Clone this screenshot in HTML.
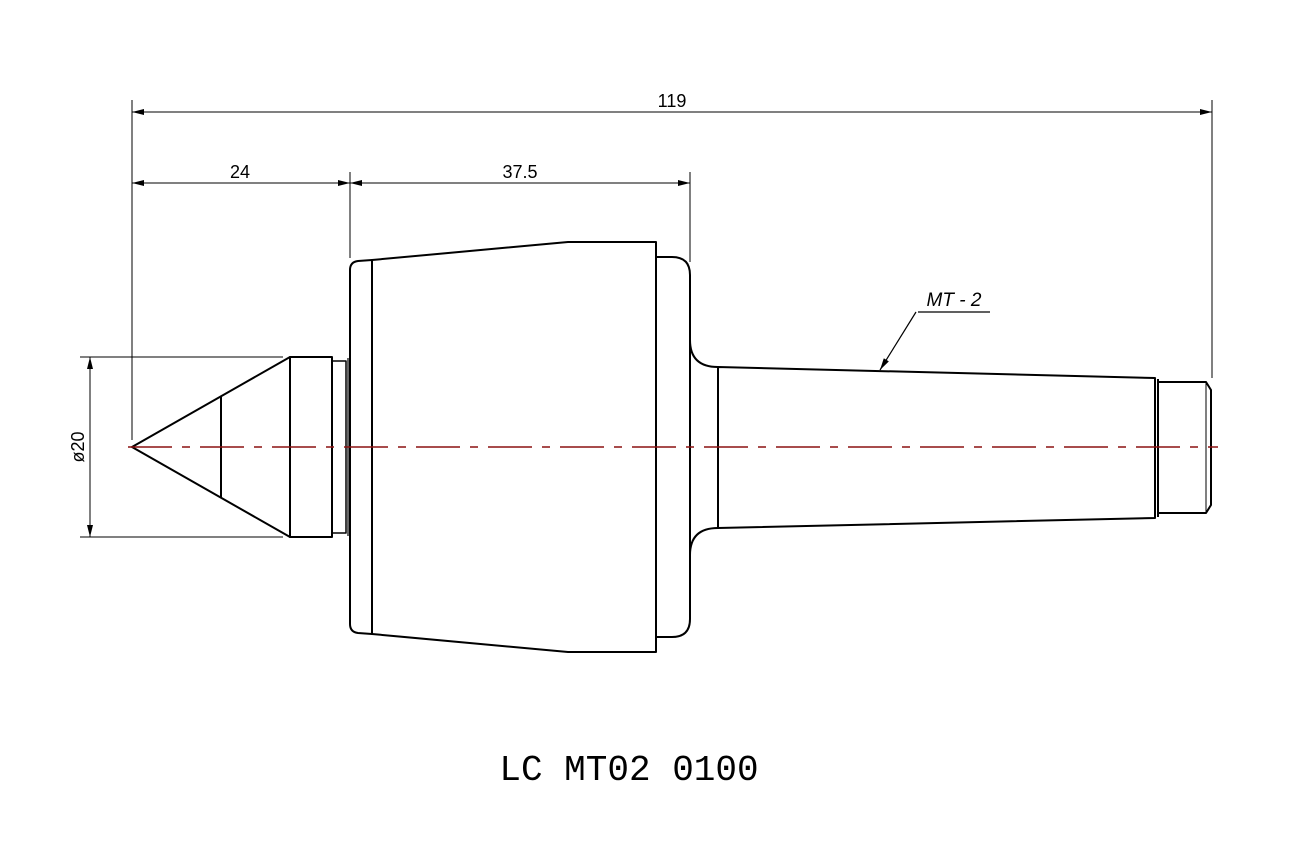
<!DOCTYPE html>
<html><head><meta charset="utf-8"><style>
html,body{margin:0;padding:0;background:#fff;}
svg{display:block;}
</style></head><body>
<svg width="1299" height="862" viewBox="0 0 1299 862" xmlns="http://www.w3.org/2000/svg">
<defs>
<marker id="a" viewBox="0 0 12 6" refX="12" refY="3" markerWidth="14" markerHeight="6" orient="auto-start-reverse" markerUnits="userSpaceOnUse"><path d="M0,0 L12,3 L0,6 Z" fill="#000"/></marker>
</defs>
<g stroke="#000" stroke-width="1" fill="none">
<line x1="132" y1="100" x2="132" y2="440"/>
<line x1="1212" y1="100" x2="1212" y2="378"/>
<line x1="350" y1="172" x2="350" y2="258"/>
<line x1="690" y1="172" x2="690" y2="262"/>
<line x1="80" y1="357" x2="283" y2="357"/>
<line x1="80" y1="537" x2="283" y2="537"/>
<line x1="132" y1="112" x2="1212" y2="112" marker-start="url(#a)" marker-end="url(#a)"/>
<line x1="132" y1="183" x2="350" y2="183" marker-start="url(#a)" marker-end="url(#a)"/>
<line x1="350" y1="183" x2="690" y2="183" marker-start="url(#a)" marker-end="url(#a)"/>
<line x1="90" y1="357" x2="90" y2="537" marker-start="url(#a)" marker-end="url(#a)"/>
</g>
<g stroke="#000" stroke-width="2" fill="none" stroke-linejoin="round">
<path d="M290,357 L132,447 L290,537 Z"/>
<line x1="221" y1="397" x2="221" y2="497"/>
<rect x="290" y="357" width="42" height="180"/>
<rect x="332" y="361" width="14" height="172" stroke-width="1.5"/>
<line x1="348" y1="358" x2="348" y2="536" stroke-width="1.2"/>
<path d="M372,260 L568,242 L656,242 L656,652 L568,652 L372,634"/>
<path d="M372,260 L358,261 Q350,262 350,270 L350,624 Q350,632 358,633 L372,634 Z"/>
<path d="M656,257 L672,257 Q690,257 690,275 L690,619 Q690,637 672,637 L656,637"/>
<path d="M690,340 Q690,367 718,367"/>
<path d="M690,555 Q690,528 718,528"/>
<path d="M718,367 L1155,378 L1155,518 L718,528 Z"/>
<line x1="1158" y1="379" x2="1158" y2="517"/>
<path d="M1158,382 L1206,382 L1211,390 L1211,505 L1206,513 L1158,513"/>
<line x1="1206" y1="382" x2="1206" y2="513" stroke-width="1"/>
</g>
<line x1="128" y1="447" x2="1218" y2="447" stroke="#8b1010" stroke-width="1.6" stroke-dasharray="44,10,8,10"/>
<line x1="916" y1="312" x2="880" y2="370" stroke="#000" stroke-width="1.2" marker-end="url(#a)"/>
<line x1="918" y1="312" x2="990" y2="312" stroke="#000" stroke-width="1.2"/>
<g font-family="Liberation Sans, sans-serif" fill="#000">
<text x="672" y="107" font-size="18" text-anchor="middle">119</text>
<text x="240" y="178" font-size="18" text-anchor="middle">24</text>
<text x="520" y="178" font-size="18" text-anchor="middle">37.5</text>
<text transform="translate(84,447) rotate(-90)" font-size="18" text-anchor="middle">ø20</text>
<text x="954" y="306" font-size="19" font-style="italic" text-anchor="middle">MT - 2</text>
</g>
<text x="629" y="780" font-family="Liberation Mono, monospace" font-size="36" text-anchor="middle" fill="#000" font-weight="300">LC MT02 0100</text>
</svg>
</body></html>
